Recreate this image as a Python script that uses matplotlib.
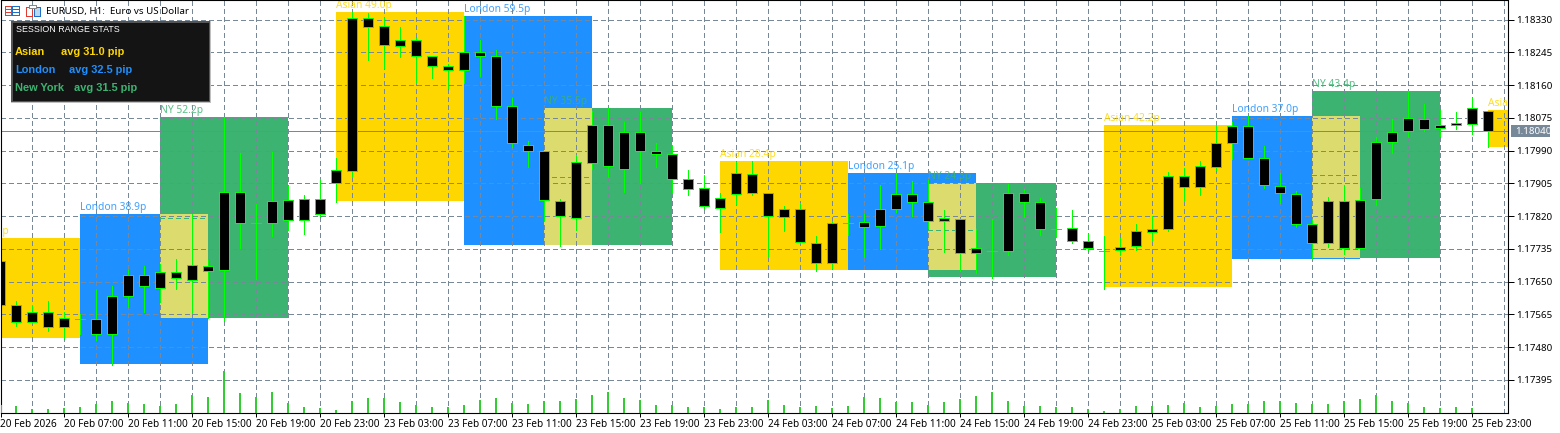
import numpy as np
import matplotlib
matplotlib.use("Agg")
import matplotlib.pyplot as plt
from matplotlib.patches import Rectangle

W, H = 1560, 433
UP = "#00FF00"
GRID = "#778899"
VOL = "#32CD32"
ASIAN = "#FFD700"
LONDON = "#1E90FF"
NEWYORK = "#3CB371"
OVERLAP = "#DCDC6E"

# hourly bars, prices in points (1e-5), all candles drawn black with a lime outline
highs = [117711, 117599, 117589, 117599, 117571, 117567, 117628, 117638, 117680, 117690, 117695, 117708,
         117826, 117706, 118077, 117983, 117852, 117987, 117899, 117874, 117917, 117970, 118350, 118346,
         118333, 118310, 118282, 118235, 118214, 118339, 118276, 118250, 118127, 118014, 117988, 117864,
         117978, 118092, 118100, 118064, 118090, 118009, 118006, 117940, 117926, 117879, 117960, 117962,
         117879, 117846, 117853, 117769, 117807, 117826, 117826, 117900, 117931, 117911, 117914, 117835,
         117813, 117786, 117812, 117903, 117890, 117866, 117840, 117836, 117773, 117768, 117763, 117800,
         117820, 117934, 117944, 117962, 118056, 118064, 118080, 118001, 117931, 117885, 117812, 117869,
         117900, 117892, 118025, 118071, 118144, 118111, 118095, 118090, 118126, 118092]
lows = [117582, 117536, 117543, 117523, 117503, 117515, 117498, 117435, 117584, 117571, 117597, 117631,
        117568, 117556, 117551, 117737, 117658, 117769, 117783, 117775, 117820, 117858, 117922, 118225,
        118204, 118234, 118166, 118179, 118152, 118166, 118185, 118071, 118000, 117948, 117807, 117743,
        117783, 117942, 117921, 117882, 117905, 117948, 117879, 117874, 117838, 117780, 117851, 117874,
        117715, 117782, 117750, 117678, 117685, 117771, 117715, 117734, 117830, 117820, 117789, 117728,
        117678, 117673, 117659, 117718, 117817, 117771, 117765, 117750, 117731, 117631, 117719, 117732,
        117755, 117781, 117859, 117876, 117939, 117969, 117970, 117894, 117855, 117793, 117708, 117741,
        117721, 117737, 117848, 117985, 118026, 118040, 118027, 118045, 118032, 117999]
body_tops = [117703, 117589, 117571, 117571, 117555, 117553, 117552, 117612, 117667, 117667, 117674, 117674,
             117693, 117690, 117882, 117882, 117802, 117859, 117861, 117864, 117864, 117939, 118333, 118333,
             118313, 118276, 118276, 118235, 118209, 118245, 118245, 118235, 118105, 118006, 117988, 117859,
             117960, 118056, 118056, 118038, 118038, 117988, 117981, 117916, 117892, 117866, 117931, 117929,
             117879, 117838, 117838, 117750, 117802, 117803, 117804, 117838, 117877, 117877, 117856, 117814,
             117812, 117737, 117729, 117879, 117879, 117856, 117787, 117789, 117755, 117730, 117739, 117781,
             117786, 117924, 117924, 117949, 118009, 118053, 118053, 117970, 117898, 117877, 117799, 117859,
             117859, 117861, 118012, 118039, 118076, 118073, 118056, 118061, 118100, 118092]
body_bottoms = [117589, 117545, 117545, 117532, 117532, 117553, 117513, 117513, 117612, 117638, 117633, 117659,
                117654, 117677, 117680, 117802, 117802, 117802, 117809, 117809, 117825, 117905, 117936, 118310,
                118263, 118261, 118235, 118209, 118199, 118199, 118235, 118105, 118009, 117988, 117861, 117820,
                117814, 117957, 117949, 117942, 117988, 117981, 117916, 117890, 117846, 117840, 117877, 117879,
                117820, 117817, 117752, 117698, 117698, 117803, 117791, 117794, 117838, 117856, 117807, 117807,
                117724, 117724, 117729, 117729, 117856, 117786, 117787, 117755, 117737, 117730, 117731, 117742,
                117778, 117786, 117895, 117895, 117947, 118009, 117970, 117900, 117879, 117799, 117750, 117750,
                117737, 117737, 117864, 118012, 118040, 118045, 118048, 118056, 118058, 118040]
tick_volumes = [800, 700, 400, 400, 500, 600, 900, 1200, 1000, 900, 700, 900,
                1800, 1600, 4200, 2000, 1600, 2100, 1000, 600, 500, 300, 1200, 1500,
                1500, 1100, 800, 600, 600, 800, 1250, 1500, 1000, 900, 1150, 1150,
                1400, 1800, 2100, 1500, 1250, 800, 800, 600, 600, 350, 600, 600,
                1250, 800, 600, 700, 460, 700, 1600, 1500, 1100, 1050, 800, 1050,
                1400, 1700, 2100, 1200, 640, 640, 540, 540, 320, 200, 320, 640,
                640, 750, 1000, 540, 640, 860, 860, 1200, 1200, 1000, 860, 860,
                1200, 1400, 1800, 1200, 1000, 540, 430, 540, 430, 0]

# sessions: first bar, bar after the last one, high and low in points
session_names = ["Asian", "London", "NY", "Asian", "London", "NY", "Asian", "London", "NY",
                 "Asian", "London", "NY", "Asian"]
session_starts = [-3, 5, 10, 21, 29, 34, 45, 53, 58, 69, 77, 82, 93]
session_ends = [5, 13, 18, 29, 37, 42, 53, 61, 66, 77, 85, 90, 101]
session_highs = [117763, 117826, 118077, 118350, 118340, 118100, 117964, 117931, 117905, 118057, 118080, 118145, 118095]
session_lows = [117504, 117437, 117556, 117859, 117745, 117745, 117680, 117680, 117662, 117635, 117710, 117711, 118000]
session_pips = [25.9, 38.9, 52.2, 49.0, 59.5, 35.5, 28.4, 25.1, 24.3, 42.2, 37.0, 43.4, 9.5]

price_ticks = [118330, 118245, 118160, 118075, 117990, 117905, 117820, 117735, 117650, 117565, 117480, 117395]
last_price = 118040
time_labels = ["20 Feb 2026", "20 Feb 07:00", "20 Feb 11:00", "20 Feb 15:00", "20 Feb 19:00", "20 Feb 23:00",
               "23 Feb 03:00", "23 Feb 07:00", "23 Feb 11:00", "23 Feb 15:00", "23 Feb 19:00", "23 Feb 23:00",
               "24 Feb 03:00", "24 Feb 07:00", "24 Feb 11:00", "24 Feb 15:00", "24 Feb 19:00", "24 Feb 23:00",
               "25 Feb 03:00", "25 Feb 07:00", "25 Feb 11:00", "25 Feb 15:00", "25 Feb 19:00", "25 Feb 23:00"]

stats_names = ["Asian", "London", "New York"]
stats_avgs = [31.0, 32.5, 31.5]


def fx(px):
    return px / W


def fy(py):
    return 1 - py / H


def fig_rect(x0, y0, x1, y1, color, zorder=20):
    fig.add_artist(Rectangle((fx(x0), fy(y1)), (x1 - x0) / W, (y1 - y0) / H, transform=fig.transFigure,
                             facecolor=color, edgecolor="none", zorder=zorder, antialiased=False))


plt.rcParams["font.family"] = ["Noto Sans", "DejaVu Sans"]

fig = plt.figure(figsize=(W / 100, H / 100), dpi=100, facecolor="white")
ax = fig.add_axes([fx(0.5), fy(412.5), 1507.5 / W, 412 / H])
ax.set_xlim(0, 94.25)
ax.set_ylim(118381 - 2.595 * 412.5, 118381 - 2.595 * 0.5)

# session boxes, later ones paint over earlier ones
colors = {"Asian": ASIAN, "London": LONDON, "NY": NEWYORK}
for name, start, end, hi, lo, pips in zip(session_names, session_starts, session_ends,
                                          session_highs, session_lows, session_pips):
    ax.add_patch(Rectangle((start, lo), end - start, hi - lo, facecolor=colors[name], edgecolor="none",
                           zorder=1, antialiased=False))
    ax.text(start, hi + 3, "{} {:.1f}p".format(name, pips), color=colors[name], fontsize=7.4,
            ha="left", va="bottom", zorder=6, clip_on=True, alpha=0.85)

# London / New York overlap
for i, name in enumerate(session_names):
    if name == "NY":
        ovl_lo = max(session_lows[i - 1], session_lows[i])
        ovl_hi = min(session_highs[i - 1], session_highs[i])
        ax.add_patch(Rectangle((session_starts[i], ovl_lo), session_ends[i - 1] - session_starts[i], ovl_hi - ovl_lo,
                               facecolor=OVERLAP, edgecolor="none", zorder=1.5, antialiased=False))
        mid = (session_highs[i] + session_lows[i]) / 2
        ax.plot([session_starts[i], session_ends[i]], [mid, mid], color=NEWYORK, lw=0.72,
                dashes=(5, 3), zorder=2.5, antialiased=False)

# grid
ax.set_xticks(np.arange(0, 95, 4))
ax.set_xticklabels(time_labels, fontsize=7.2, ha="left")
ax.set_yticks(price_ticks)
ax.set_yticklabels(["{:.5f}".format(p / 1e5) for p in price_ticks], fontsize=7.0)
ax.tick_params(axis="x", length=3, width=0.72, pad=2, color="black")
ax.tick_params(axis="y", length=4, width=0.72, pad=2, color="black")
for x in np.arange(2, 95, 2):
    ax.axvline(x, color=GRID, lw=0.72, dashes=(5, 3), zorder=2, antialiased=False)
for p in price_ticks:
    ax.axhline(p, color=GRID, lw=0.72, dashes=(5, 3), zorder=2, antialiased=False)
ax.axhline(last_price, color=GRID, lw=0.72, zorder=2.2, antialiased=False)
for spine in ax.spines.values():
    spine.set_linewidth(0.8)
    spine.set_zorder(10)

# candles
idx = np.arange(len(highs))
ax.vlines(idx, lows, highs, color=UP, lw=0.72, zorder=3, antialiased=False)
tops = np.array(body_tops)
bottoms = np.array(body_bottoms)
ax.bar(idx, tops - bottoms, bottom=bottoms, width=0.625, facecolor="black", edgecolor=UP, linewidth=0.72,
       zorder=4, antialiased=False)

# tick volumes share the bottom of the window, on their own scale
ax_vol = ax.twinx()
ax_vol.set_ylim(0, 41200)
ax_vol.axis("off")
ax_vol.vlines(idx, 0, tick_volumes, color=VOL, lw=1.44, zorder=3, antialiased=False)
ax.yaxis.tick_right()

# last price tag
fig_rect(1511, 125, 1550, 137, GRID)
fig.text(fx(1515), fy(131.3), "{:.5f}".format(last_price / 1e5), color="white", fontsize=7.0, va="center",
         ha="left", zorder=21)

# header with the two toolbar icons
for x0, x1, c in [(5, 12, "#E03C31"), (12, 20, "#1E6FC8")]:
    fig_rect(x0, 6, x1, 16, "white")
    for yy in (6, 9, 12, 15):
        fig_rect(x0, yy, x1, yy + 1, c)
    fig_rect(x0, 6, x0 + 1, 16, c)
    fig_rect(x1 - 1, 6, x1, 16, c)
fig_rect(26, 7, 33, 17, "#E03C31")
fig_rect(27, 8, 32, 16, "white")
fig_rect(34, 7, 41, 17, "#1E6FC8")
fig_rect(35, 8, 40, 16, "#BBD8F2")
fig_rect(29, 5, 37, 9, "#888888")
fig_rect(30, 6, 36, 8, "white")
fig.text(fx(46), fy(11.5), "EURUSD, H1:  Euro vs US Dollar", fontsize=7.0, color="black", va="center", ha="left",
         zorder=21)

# stats panel
fig_rect(11, 21, 211, 103, "#C0C0C0")
fig_rect(11, 21, 210, 102, "#555555")
fig_rect(13, 23, 209, 101, "#141414")
fig.text(fx(16), fy(30), "SESSION RANGE STATS", fontsize=6.4, color="white", va="center", ha="left", zorder=21,
         family=["Liberation Sans"])
avg_x = [61, 69, 74]
for row, (label, avg, c, ax_px) in enumerate(zip(stats_names, stats_avgs, [ASIAN, LONDON, NEWYORK], avg_x)):
    ypx = 52 + 18 * row
    fig.text(fx(15), fy(ypx), label, fontsize=7.9, color=c, fontweight="bold", va="center", ha="left", zorder=21,
             family=["Liberation Sans"])
    fig.text(fx(ax_px), fy(ypx), "avg {:.1f} pip".format(avg), fontsize=7.9, color=c, fontweight="bold",
             va="center", ha="left", zorder=21, family=["Liberation Sans"])

fig.savefig("out.png", dpi=100)
